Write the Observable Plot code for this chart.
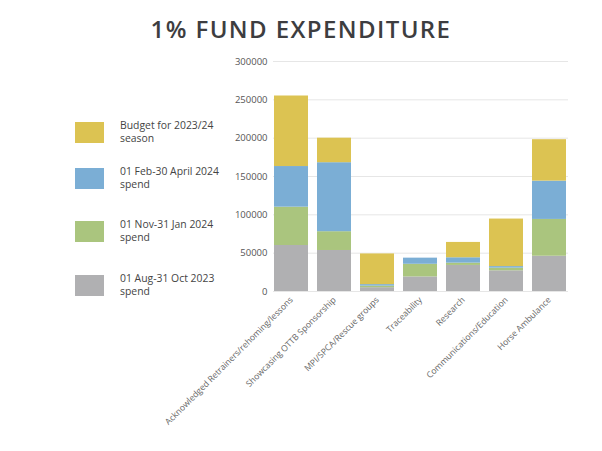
<!DOCTYPE html>
<html>
<head>
<meta charset="utf-8">
<script src="https://cdn.jsdelivr.net/npm/d3@7"></script>
<script src="https://cdn.jsdelivr.net/npm/@observablehq/plot@0.6"></script>
<style>
  body { margin: 0; background: #fff; }
  #wrap { position: relative; width: 602px; height: 451px; overflow: hidden; font-family: "Open Sans", sans-serif; }
  #title { position: absolute; left: 0; width: 602px; top: 12px; text-align: center; font-size: 24px; font-weight: 600; color: #3d3d40; letter-spacing: 1.4px; }
  #legend { position: absolute; left: 75px; top: 0; }
  .item { position: absolute; left: 0; width: 150px; }
  .sw { position: absolute; left: 0; top: 0; width: 29px; height: 21px; }
  .lab { position: absolute; left: 45px; top: -3px; font-size: 10.4px; color: #444; width: 120px; }
  .lab div { height: 13px; line-height: 13px; white-space: nowrap; }
  #chart { position: absolute; left: 0; top: 0; }
</style>
</head>
<body>
<div id="wrap">
  <div id="chart"></div>
  <div id="title">1% FUND EXPENDITURE</div>
  <div id="legend"></div>
</div>
<script>
const categories = [
  "Acknowledged Retrainers/rehoming/lessons",
  "Showcasing OTTB Sponsorship",
  "MPI/SPCA/Rescue groups",
  "Traceability",
  "Research",
  "Communications/Education",
  "Horse Ambulance"
];
const seriesNames = [
  "01 Aug-31 Oct 2023 spend",
  "01 Nov-31 Jan 2024 spend",
  "01 Feb-30 April 2024 spend",
  "Budget for 2023/24 season"
];
const augOct = [60000, 53500, 5000, 19000, 34000, 27000, 46000];
const novJan = [50000, 24500, 2000, 16500, 3000, 3500, 48000];
const febApr = [53000, 90000, 2000, 8000, 7000, 2000, 50000];
const budget = [92000, 32000, 40000, 0, 20000, 62000, 54000];
const colors = ["#b0b0b2", "#aac57e", "#7baed5", "#dcc352"];
const yTicks = [0, 50000, 100000, 150000, 200000, 250000, 300000];

const seriesValues = [augOct, novJan, febApr, budget];
const rows = [];
seriesValues.forEach((vals, s) => {
  categories.forEach((c, i) => rows.push({category: c, series: seriesNames[s], value: vals[i]}));
});

const chart = Plot.plot({
  width: 602,
  height: 451,
  marginTop: 61,
  marginBottom: 160,
  marginLeft: 273,
  marginRight: 34,
  style: {fontFamily: "Open Sans, sans-serif", color: "#555", background: "transparent"},
  x: {domain: categories, paddingInner: 0.2, paddingOuter: 0, label: null},
  y: {domain: [0, 300000], label: null},
  color: {domain: seriesNames, range: colors},
  marks: [
    Plot.gridY(yTicks, {stroke: "#e6e6e6", strokeOpacity: 1, strokeWidth: 1}),
    Plot.barY(rows, {x: "category", y: "value", fill: "series", order: seriesNames}),
    Plot.axisY(yTicks, {tickSize: 0, tickPadding: 6, tickFormat: d => String(d), fontSize: 9.5, fill: "#555", label: null}),
    Plot.axisX({tickSize: 0, tickPadding: 7, tickRotate: -45, fontSize: 8.6, fill: "#666", label: null})
  ]
});
document.getElementById("chart").appendChild(chart);

const legend = document.getElementById("legend");
const legendOrder = [3, 2, 1, 0];
const legendTops = [122, 168, 221, 275];
const legendLines = [
  ["01 Aug-31 Oct 2023", "spend"],
  ["01 Nov-31 Jan 2024", "spend"],
  ["01 Feb-30 April 2024", "spend"],
  ["Budget for 2023/24", "season"]
];
legendOrder.forEach((s, k) => {
  const item = document.createElement("div");
  item.className = "item";
  item.style.top = legendTops[k] + "px";
  const sw = document.createElement("div");
  sw.className = "sw";
  sw.style.background = colors[s];
  const lab = document.createElement("div");
  lab.className = "lab";
  legendLines[s].forEach(t => {
    const line = document.createElement("div");
    line.textContent = t;
    lab.appendChild(line);
  });
  item.appendChild(sw);
  item.appendChild(lab);
  legend.appendChild(item);
});
</script>
</body>
</html>
